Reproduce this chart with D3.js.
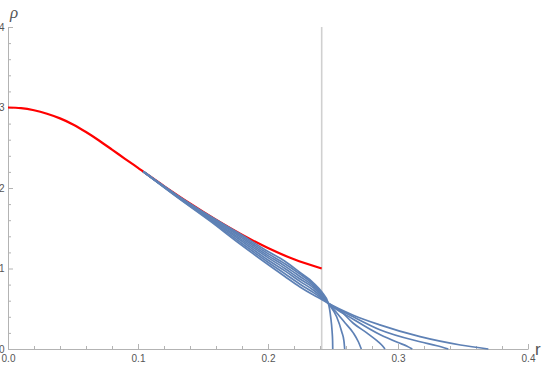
<!DOCTYPE html>
<html>
<head>
<meta charset="utf-8">
<script src="https://cdn.jsdelivr.net/npm/d3@7"></script>
<style>
  html, body { margin: 0; padding: 0; background: #fff; }
  svg { display: block; }
  .tick text { font-family: "Liberation Sans", Arial, sans-serif; font-size: 10px; fill: #555; }
</style>
</head>
<body>
<svg id="chart" width="545" height="366"></svg>
<script>
// ---- data ----
const xMajorTicks = [0, 0.1, 0.2, 0.3, 0.4];
const xTickLabels = ["0.0", "0.1", "0.2", "0.3", "0.4"];
const xMinorTicks = [0.02,0.04,0.06,0.08,0.12,0.14,0.16,0.18,0.22,0.24,0.26,0.28,0.32,0.34,0.36,0.38];
const yMajorTicks = [0, 1, 2, 3, 4];
const yTickLabels = ["0", "1", "2", "3", "4"];
const yMinorTicks = [0.2,0.4,0.6,0.8,1.2,1.4,1.6,1.8,2.2,2.4,2.6,2.8,3.2,3.4,3.6,3.8];

const boundaryR = 0.2413;

// red curve: [r, rho]
const redCurve = [
  [0,3.0],[0.01,2.992],[0.02,2.966],[0.03,2.923],[0.04,2.865],[0.05,2.79],
  [0.06,2.695],[0.07,2.59],[0.08,2.477],[0.09,2.363],[0.10,2.25],[0.12,2.024],
  [0.14,1.808],[0.16,1.606],[0.18,1.42],[0.20,1.254],[0.22,1.114],[0.2413,1.0]
];

// blue curves, top (before crossing) to bottom
const blue0 = [[0.104,2.205],[0.13,1.912],[0.155,1.655],[0.178,1.435],[0.20,1.21],[0.213,1.09],[0.2246,0.95],[0.235,0.82],[0.2413,0.71],[0.2464,0.568],[0.2482,0.40],[0.2493,0.22],[0.2497,0.10],[0.2498,0]];
const blue1 = [[0.104,2.205],[0.13,1.908],[0.155,1.645],[0.178,1.418],[0.20,1.185],[0.213,1.06],[0.2246,0.93],[0.235,0.80],[0.2413,0.69],[0.2464,0.568],[0.2528,0.40],[0.2567,0.215],[0.2584,0.10],[0.2590,0]];
const blue2 = [[0.104,2.205],[0.13,1.904],[0.155,1.635],[0.178,1.40],[0.20,1.16],[0.213,1.03],[0.2246,0.90],[0.235,0.78],[0.2413,0.675],[0.2464,0.568],[0.2528,0.45],[0.2590,0.33],[0.2656,0.20],[0.2695,0.09],[0.2718,0]];
const blue3 = [[0.104,2.205],[0.13,1.90],[0.155,1.625],[0.178,1.38],[0.20,1.135],[0.213,1.00],[0.2246,0.87],[0.235,0.76],[0.2413,0.66],[0.2464,0.568],[0.2560,0.47],[0.2656,0.32],[0.2760,0.20],[0.2840,0.10],[0.2880,0.04],[0.2900,0]];
const blue4 = [[0.104,2.205],[0.13,1.896],[0.155,1.615],[0.178,1.36],[0.20,1.105],[0.213,0.97],[0.2246,0.84],[0.235,0.73],[0.2413,0.645],[0.2464,0.568],[0.2656,0.37],[0.2860,0.18],[0.3000,0.08],[0.3070,0.035],[0.3110,0]];
const blue5 = [[0.104,2.205],[0.13,1.892],[0.155,1.605],[0.178,1.335],[0.20,1.078],[0.213,0.935],[0.2246,0.805],[0.235,0.70],[0.2413,0.63],[0.2464,0.568],[0.2656,0.40],[0.2860,0.24],[0.3170,0.09],[0.3300,0.04],[0.3387,0]];
const blue6 = [[0.104,2.205],[0.13,1.888],[0.155,1.595],[0.178,1.31],[0.20,1.05],[0.213,0.90],[0.2246,0.77],[0.235,0.67],[0.2413,0.615],[0.2464,0.568],[0.2656,0.42],[0.2860,0.30],[0.3170,0.153],[0.3480,0.05],[0.3695,0]];
const blueCurves = [blue0, blue1, blue2, blue3, blue4, blue5, blue6];

// ---- drawing ----
const svg = d3.select("#chart");
const x = d3.scaleLinear().domain([0, 0.4]).range([8, 528]);
const y = d3.scaleLinear().domain([0, 4]).range([349, 27]);
const axisColor = "#b3b3b3";

// vertical boundary line
svg.append("line")
  .attr("x1", x(boundaryR)).attr("x2", x(boundaryR))
  .attr("y1", y(4)).attr("y2", y(0))
  .attr("stroke", "#d0d0d0").attr("stroke-width", 1.6);

// axes
const gx = svg.append("g").attr("transform", `translate(0,${y(0)})`);
gx.call(d3.axisBottom(x).tickValues(xMinorTicks).tickSize(-3).tickSizeOuter(0).tickFormat(""));
gx.call(g => g.select(".domain").remove());
const gxM = svg.append("g").attr("transform", `translate(0,${y(0)})`);
gxM.call(d3.axisBottom(x).tickValues(xMajorTicks).tickSize(-5).tickSizeOuter(0).tickPadding(6)
  .tickFormat((d, i) => xTickLabels[i]));

const gy = svg.append("g").attr("transform", `translate(${x(0)},0)`);
gy.call(d3.axisLeft(y).tickValues(yMinorTicks).tickSize(-3).tickSizeOuter(0).tickFormat(""));
gy.call(g => g.select(".domain").remove());
const gyM = svg.append("g").attr("transform", `translate(${x(0)},0)`);
gyM.call(d3.axisLeft(y).tickValues(yMajorTicks).tickSize(-5).tickSizeOuter(0).tickPadding(3.5)
  .tickFormat((d, i) => yTickLabels[i]));

svg.selectAll(".domain, .tick line").attr("stroke", axisColor);

// axis labels
svg.append("text").attr("x", 10).attr("y", 18)
  .attr("font-family", "Liberation Serif, serif").attr("font-style", "italic")
  .attr("font-size", 17).attr("fill", "#555").text("ρ");
svg.append("text").attr("x", 535).attr("y", 355)
  .attr("font-family", "Liberation Sans, Arial, sans-serif")
  .attr("font-size", 17).attr("fill", "#555").text("r");

const line = d3.line().x(d => x(d[0])).y(d => y(d[1])).curve(d3.curveMonotoneX);

// red curve
svg.append("path").datum(redCurve).attr("d", line)
  .attr("fill", "none").attr("stroke", "#ff0000").attr("stroke-width", 2.2);

// blue curves
svg.selectAll("path.blue").data(blueCurves).enter().append("path")
  .attr("class", "blue").attr("d", line)
  .attr("fill", "none").attr("stroke", "#5e81b5").attr("stroke-width", 1.7);
</script>
</body>
</html>
